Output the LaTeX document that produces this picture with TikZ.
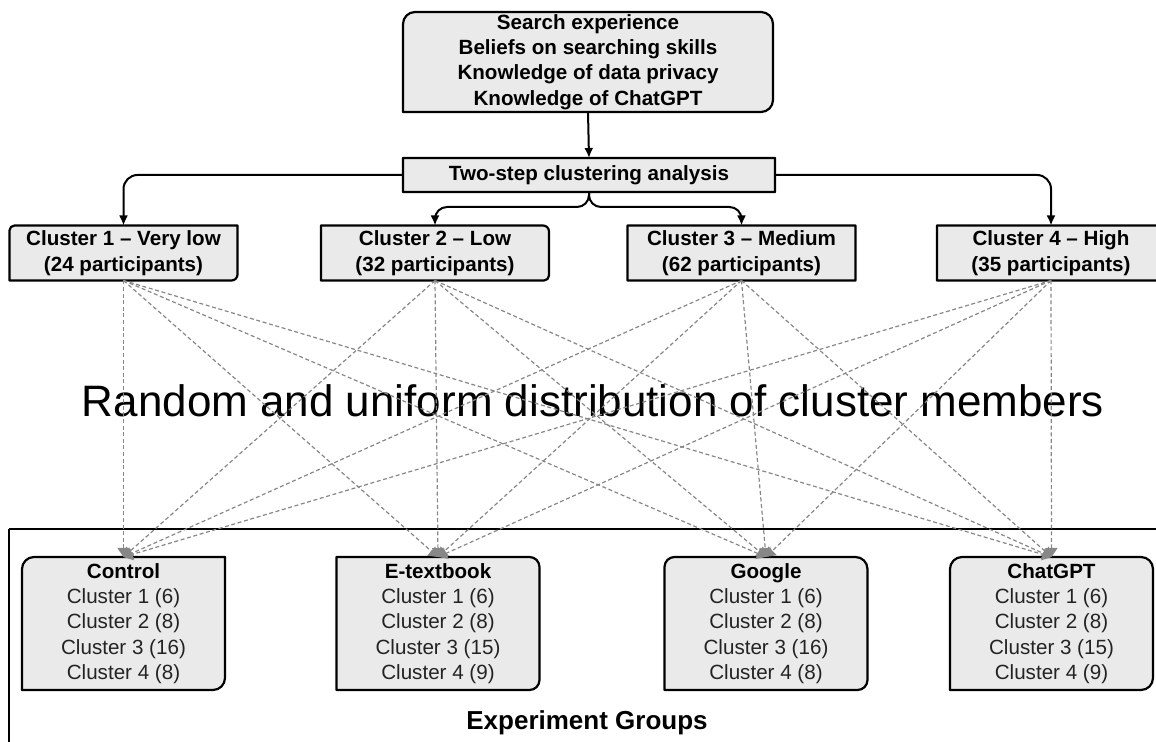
\documentclass[tikz,border=0pt]{standalone}
\usepackage{fontspec}
\setmainfont{Liberation Sans}
\usetikzlibrary{arrows.meta,backgrounds}
\definecolor{boxfill}{RGB}{234,234,234}
\definecolor{dashgray}{RGB}{135,135,135}
\definecolor{txtgray}{RGB}{35,35,35}
% outline of a box with individual corner radii (in px units: 1px = 0.5pt)
\newcommand\boxoutline[5]{%
  \filldraw[boxline]
    ([yshift=-#2*0.5pt]#1.north west) arc[start angle=180,end angle=90,radius=#2*0.5pt]
    -- ([xshift=-#3*0.5pt]#1.north east) arc[start angle=90,end angle=0,radius=#3*0.5pt]
    -- ([yshift=#4*0.5pt]#1.south east) arc[start angle=0,end angle=-90,radius=#4*0.5pt]
    -- ([xshift=#5*0.5pt]#1.south west) arc[start angle=270,end angle=180,radius=#5*0.5pt]
    -- cycle;}
\begin{document}
\begin{tikzpicture}[x=0.5pt,y=0.5pt,
  txt/.style={align=center, inner sep=0pt, outer sep=0pt,
    font=\fontsize{10.3}{12.7}\selectfont},
  boldtxt/.style={txt, font=\fontsize{10.3}{12.7}\selectfont\bfseries},
  infobox/.style={boldtxt, minimum width=185pt, minimum height=50pt},
  stepbox/.style={boldtxt, minimum width=186pt, minimum height=17pt},
  clusterbox/.style={boldtxt, minimum width=114pt, minimum height=27.5pt},
  groupbox/.style={txt, text=txtgray, minimum width=101.5pt, minimum height=66.5pt},
  boxline/.style={draw=black, fill=boxfill, line width=1.1pt, line join=round},
  conn/.style={draw=black, line width=1pt, -{Latex[width=4.5pt,length=5pt]}},
  distconn/.style={draw=dashgray, line width=0.6pt, dash pattern=on 2pt off 1.3pt,
    -{Triangle[width=6pt,length=4.5pt]}},
  frameline/.style={draw=black, line width=0.8pt}]
\useasboundingbox (0,0) rectangle (1156,-742);

% nodes
\node[infobox] (info) at (588,-62) {Search experience\\Beliefs on searching skills\\Knowledge of data privacy\\Knowledge of ChatGPT};
\node[stepbox] (ts) at (589,-175) {Two-step clustering analysis};
\node[clusterbox] (c1) at (123.5,-253) {Cluster 1 -- Very low\\(24 participants)};
\node[clusterbox] (c2) at (435,-253) {Cluster 2 -- Low\\(32 participants)};
\node[clusterbox] (c3) at (741.5,-253) {Cluster 3 -- Medium\\(62 participants)};
\node[clusterbox] (c4) at (1051,-253) {Cluster 4 -- High\\(35 participants)};

\node[groupbox] (g1) at (123.5,-623.5) {{\bfseries\color{black}Control}\\Cluster 1 (6)\\Cluster 2 (8)\\Cluster 3 (16)\\Cluster 4 (8)};
\node[groupbox] (g2) at (438,-623.5) {{\bfseries\color{black}E-textbook}\\Cluster 1 (6)\\Cluster 2 (8)\\Cluster 3 (15)\\Cluster 4 (9)};
\node[groupbox] (g3) at (766,-623.5) {{\bfseries\color{black}Google}\\Cluster 1 (6)\\Cluster 2 (8)\\Cluster 3 (16)\\Cluster 4 (8)};
\node[groupbox] (g4) at (1051.5,-623.5) {{\bfseries\color{black}ChatGPT}\\Cluster 1 (6)\\Cluster 2 (8)\\Cluster 3 (15)\\Cluster 4 (9)};

\node[inner sep=0pt, anchor=base, font=\fontsize{22}{26}\selectfont] (dist) at (593,-417) {Random and uniform distribution of cluster members};
\node[inner sep=0pt, font=\fontsize{13}{15}\selectfont\bfseries] (exp) at (587,-723) {Experiment Groups};

% box outlines on the background layer
\begin{scope}[on background layer]
  \boxoutline{info}{12}{12}{12}{0.1}
  \boxoutline{ts}{0.1}{0.1}{0.1}{0.1}
  \boxoutline{c1}{5}{0.1}{6}{0.1}
  \boxoutline{c2}{0.1}{6}{5}{0.1}
  \boxoutline{c3}{0.1}{0.1}{0.1}{0.1}
  \boxoutline{c4}{0.1}{0.1}{0.1}{0.1}
  \boxoutline{g1}{12}{0.1}{12}{0.1}
  \boxoutline{g2}{0.1}{10}{10}{0.1}
  \boxoutline{g3}{10}{12}{10}{0.1}
  \boxoutline{g4}{12}{12}{12}{0.1}
  % frame of the experiment groups
  \draw[frameline] (9,-529) -- (1170,-529);
  \draw[frameline] (9,-529) -- (9,-760);
\end{scope}

% solid connectors
\coordinate (split) at (589,-207);
\draw[conn] (info.south) -- (ts.north);
\draw[conn, rounded corners=7pt] (ts.west) -| (c1.north);
\draw[conn, rounded corners=7pt] (ts.east) -| (c4.north);
\draw[conn, rounded corners=6pt] (ts.south) -- (split) -| (c2.north);
\draw[conn, rounded corners=6pt] (ts.south) -- (split) -| (c3.north);

% distribution connectors
\foreach \c in {c1,c2,c3,c4}{
  \foreach \g in {g1,g2,g3,g4}{
    \draw[distconn] (\c.south) -- (\g.north);
  }
}
\end{tikzpicture}
\end{document}
